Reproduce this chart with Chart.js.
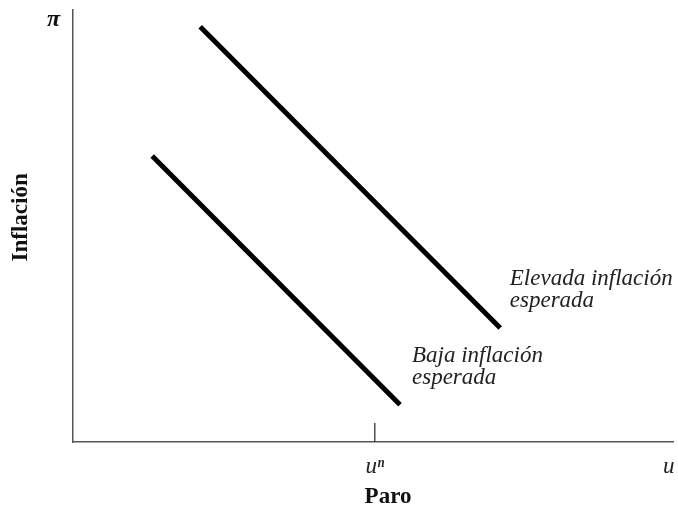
<!DOCTYPE html>
<html>
<head>
<meta charset="utf-8">
<script src="https://cdn.jsdelivr.net/npm/chart.js@4/dist/chart.umd.min.js"></script>
<style>
  html, body { margin: 0; padding: 0; background: #fff; }
  #wrap { width: 678px; height: 508px; }
</style>
</head>
<body>
<div id="wrap"><canvas id="myChart"></canvas></div>
<script>
// Phillips curves: two parallel lines (x = paro, y = inflación), arbitrary units 0-100
const highX = [21.2, 71.2];
const highY = [96.1, 26.4];
const lowX = [13.2, 54.5];
const lowY = [66.2, 8.6];

const xTickValues = [50.3, 99.3];
const xTickLabels = ["u\u207F", "u"];
const yTickValues = [97.7];
const yTickLabels = ["\u03C0"];

const seriesLabels = ["Elevada inflación esperada", "Baja inflación esperada"];
const xTitle = "Paro";
const yTitle = "Inflación";

const SERIF = "'Liberation Serif', 'DejaVu Serif', serif";

function toPoints(xs, ys) {
  return xs.map((x, i) => ({ x: x, y: ys[i] }));
}

// short tick at u^n, curve labels and axis titles
const extrasPlugin = {
  id: "extras",
  afterDraw(chart) {
    const { ctx, chartArea, scales } = chart;
    const x = scales.x;
    const y = scales.y;
    ctx.save();

    const tx = x.getPixelForValue(xTickValues[0]);
    ctx.strokeStyle = "#333";
    ctx.lineWidth = 1.3;
    ctx.beginPath();
    ctx.moveTo(tx, chartArea.bottom);
    ctx.lineTo(tx, chartArea.bottom - 19);
    ctx.stroke();

    ctx.fillStyle = "#222";
    ctx.font = "italic 23px " + SERIF;
    ctx.textAlign = "left";
    ctx.textBaseline = "alphabetic";
    const hx = x.getPixelForValue(72.8);
    const hy = y.getPixelForValue(36.3);
    ctx.fillText("Elevada inflación", hx, hy);
    ctx.fillText("esperada", hx, hy + 22);
    const lx = x.getPixelForValue(56.5);
    const ly = y.getPixelForValue(18.5);
    ctx.fillText("Baja inflación", lx, ly);
    ctx.fillText("esperada", lx, ly + 22);

    ctx.fillStyle = "#111";
    ctx.font = "bold 23px " + SERIF;
    ctx.textAlign = "center";
    ctx.textBaseline = "middle";
    ctx.fillText(xTitle, x.getPixelForValue(52.5), 497);
    ctx.translate(21, y.getPixelForValue(52));
    ctx.rotate(-Math.PI / 2);
    ctx.fillText(yTitle, 0, 0);
    ctx.restore();
  },
};

new Chart(document.getElementById("myChart"), {
  type: "scatter",
  data: {
    datasets: [
      {
        label: seriesLabels[0],
        data: toPoints(highX, highY),
        showLine: true,
        borderColor: "#000",
        borderWidth: 5,
        pointRadius: 0,
        borderCapStyle: "butt",
      },
      {
        label: seriesLabels[1],
        data: toPoints(lowX, lowY),
        showLine: true,
        borderColor: "#000",
        borderWidth: 5,
        pointRadius: 0,
        borderCapStyle: "butt",
      },
    ],
  },
  options: {
    responsive: true,
    maintainAspectRatio: false,
    animation: false,
    layout: { padding: { top: 10, right: 5, left: 0, bottom: 0 } },
    plugins: {
      legend: { display: false },
      tooltip: { enabled: false },
    },
    scales: {
      x: {
        type: "linear",
        min: 0,
        max: 100,
        afterFit: (s) => {
          s.height = 66;
          s.paddingLeft = 0;
          s.paddingRight = 0;
        },
        afterBuildTicks: (s) => { s.ticks = xTickValues.map((v) => ({ value: v })); },
        grid: { display: false, drawTicks: false },
        border: { color: "#555", width: 1.5 },
        ticks: {
          padding: 11,
          color: "#222",
          font: { family: SERIF, size: 23, style: "italic" },
          maxRotation: 0,
          callback: (v) => xTickLabels[xTickValues.indexOf(v)],
        },
      },
      y: {
        type: "linear",
        min: 0,
        max: 100,
        afterFit: (s) => {
          s.width = 73;
          s.paddingTop = 0;
          s.paddingBottom = 0;
        },
        afterBuildTicks: (s) => { s.ticks = yTickValues.map((v) => ({ value: v })); },
        grid: { display: false, drawTicks: false },
        border: { color: "#555", width: 1.5 },
        ticks: {
          padding: 13,
          color: "#111",
          font: { family: SERIF, size: 24, style: "italic", weight: "bold" },
          callback: (v) => yTickLabels[yTickValues.indexOf(v)],
        },
      },
    },
  },
  plugins: [extrasPlugin],
});
</script>
</body>
</html>
